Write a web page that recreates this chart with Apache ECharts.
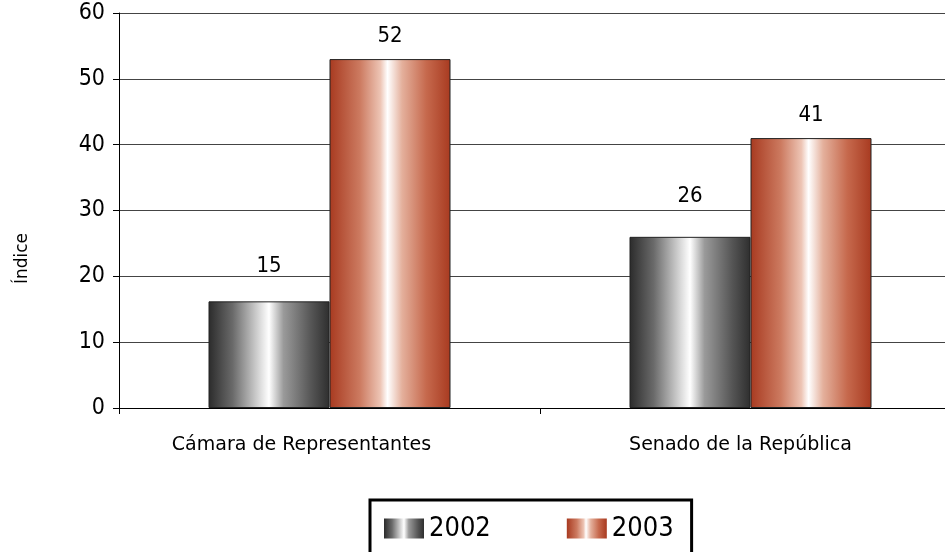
<!DOCTYPE html>
<html>
<head>
<meta charset="utf-8">
<script src="https://cdn.jsdelivr.net/npm/echarts@6/dist/echarts.min.js"></script>
<style>
  html, body { margin: 0; padding: 0; background: #fff; overflow: hidden; }
  /* el área del gráfico sigue un poco más allá del borde derecho, como en el original */
  #chart { width: 961px; height: 552px; }
</style>
</head>
<body>
<div id="chart"></div>
<script>
// categorías y valores
const categories = ['Cámara de Representantes', 'Senado de la República'];
const seriesNames = ['2002', '2003'];
const values2002 = [16.2, 26];
const values2003 = [53, 41];
const labels2002 = ['15', '26'];
const labels2003 = ['52', '41'];
const yTicks = [0, 10, 20, 30, 40, 50, 60];

// separación de las etiquetas sobre cada barra y desplazamiento de las categorías
const labelGap2002 = [24, 30];
const labelGap2003 = [12, 12];
const catShift = [56, 20];

const greyFill = new echarts.graphic.LinearGradient(0, 0, 1, 0, [
  { offset: 0, color: '#2b2b2b' },
  { offset: 0.2, color: '#6a6a6a' },
  { offset: 0.42, color: '#d8d8d8' },
  { offset: 0.5, color: '#ffffff' },
  { offset: 0.62, color: '#9a9a9a' },
  { offset: 0.85, color: '#555555' },
  { offset: 1, color: '#2e2e2e' }
]);
const redFill = new echarts.graphic.LinearGradient(0, 0, 1, 0, [
  { offset: 0, color: '#a83a20' },
  { offset: 0.25, color: '#cc7a60' },
  { offset: 0.42, color: '#edc4b4' },
  { offset: 0.48, color: '#ffffff' },
  { offset: 0.6, color: '#e4b09c' },
  { offset: 0.8, color: '#c6694d' },
  { offset: 1, color: '#a83a20' }
]);

const labelStyle = {
  show: true,
  position: 'top',
  fontFamily: 'DejaVu Sans Condensed',
  fontSize: 22,
  color: '#000'
};

const chart = echarts.init(document.getElementById('chart'));

const option = {
  animation: false,
  grid: { left: 119, right: 0, top: 13, bottom: 144 },
  legend: {
    data: seriesNames,
    bottom: -30,
    left: 370,
    icon: 'rect',
    itemWidth: 40,
    itemHeight: 20,
    itemGap: 76,
    itemStyle: { borderWidth: 0 },
    padding: [15, 18, 40, 14],
    borderColor: '#000',
    borderWidth: 3,
    textStyle: { fontFamily: 'DejaVu Sans Condensed', fontSize: 27, color: '#000' }
  },
  xAxis: {
    type: 'category',
    data: categories.map((c, i) => ({ value: c, textStyle: { padding: [0, catShift[i], 0, 0] } })),
    axisLine: { lineStyle: { color: '#000', width: 1 } },
    axisTick: { show: true, length: 6, lineStyle: { color: '#000' } },
    axisLabel: { margin: 28, fontFamily: 'DejaVu Sans', fontSize: 19, color: '#000' }
  },
  yAxis: {
    type: 'value',
    min: yTicks[0],
    max: yTicks[yTicks.length - 1],
    interval: 10,
    name: 'Índice',
    nameLocation: 'middle',
    nameGap: 88,
    nameRotate: 90,
    nameTextStyle: { fontFamily: 'DejaVu Sans', fontSize: 17, color: '#000', padding: [0, 96, 0, 0] },
    axisLine: { show: true, lineStyle: { color: '#000', width: 1 } },
    axisTick: { show: true, length: 6, lineStyle: { color: '#000' } },
    axisLabel: { margin: 14, fontFamily: 'DejaVu Sans Condensed', fontSize: 23, color: '#000' },
    splitLine: { lineStyle: { color: '#444', width: 1 } }
  },
  series: [
    {
      name: seriesNames[0],
      type: 'bar',
      data: values2002.map((v, i) => ({ value: v, label: { distance: labelGap2002[i] } })),
      barWidth: 121,
      barGap: '0%',
      itemStyle: { color: greyFill, borderColor: '#222', borderWidth: 1 },
      label: Object.assign({}, labelStyle, { formatter: p => labels2002[p.dataIndex] })
    },
    {
      name: seriesNames[1],
      type: 'bar',
      data: values2003.map((v, i) => ({ value: v, label: { distance: labelGap2003[i] } })),
      barWidth: 121,
      barGap: '0%',
      itemStyle: { color: redFill, borderColor: '#222', borderWidth: 1 },
      label: Object.assign({}, labelStyle, { formatter: p => labels2003[p.dataIndex] })
    }
  ]
};

chart.setOption(option);
</script>
</body>
</html>
